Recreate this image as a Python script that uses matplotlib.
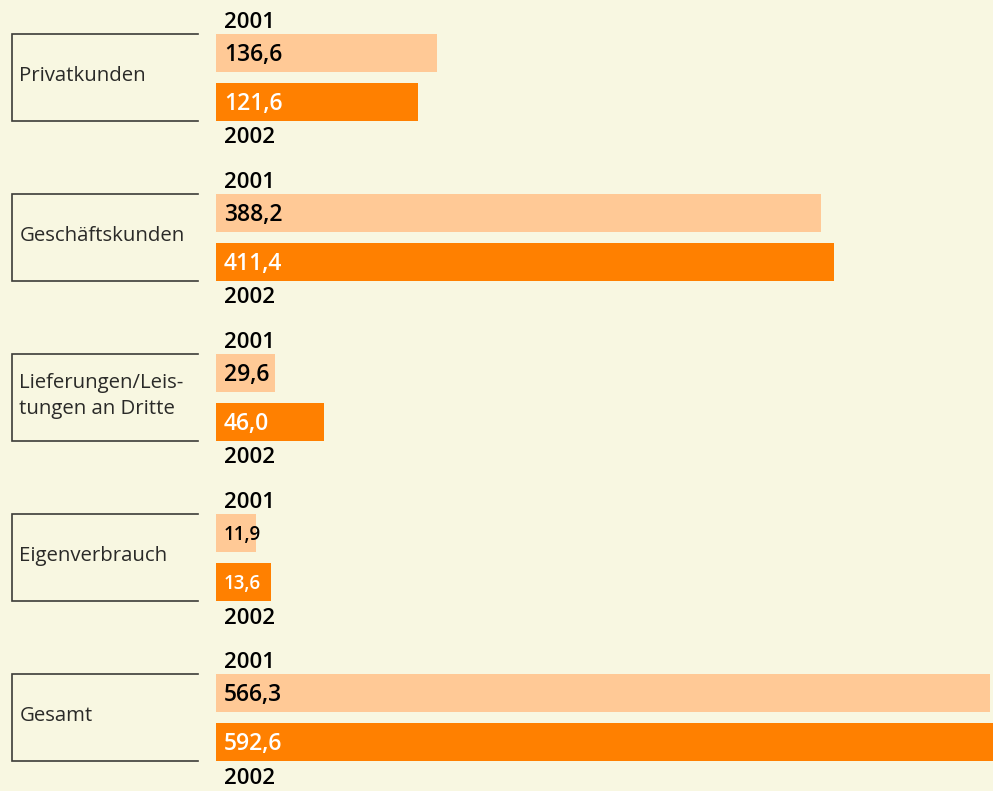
import matplotlib.pyplot as plt

kategorien = ["Privatkunden", "Geschäftskunden", "Lieferungen/Leis-\ntungen an Dritte",
              "Eigenverbrauch", "Gesamt"]
werte_2001 = [136.6, 388.2, 29.6, 11.9, 566.3]
werte_2002 = [121.6, 411.4, 46.0, 13.6, 592.6]
# bar lengths as drawn in the original (not to scale with the printed values)
laenge_2001 = [168.6, 461.4, 45.0, 30.5, 590.3]
laenge_2002 = [154.1, 471.3, 82.4, 41.9, 592.6]
jahre = ["2001", "2002"]

bg = "#f8f7e1"
hell = "#ffc996"
dunkel = "#ff8000"
plt.rcParams['font.family'] = ['Open Sans', 'DejaVu Sans']

fig = plt.figure(figsize=(9.93, 7.91), dpi=100, facecolor=bg)
ax = fig.add_axes([0, 0, 1, 1])
ax.set_facecolor(bg)
ax.set_xlim(-164.7, 592.6)
ax.set_ylim(4.459, -0.484)
ax.axis('off')

h = 0.2375
off = 0.153
tx = 6.1

def fmt(v):
    return f"{v:.1f}".replace(".", ",")

ys = list(range(len(kategorien)))
ax.barh([y - off for y in ys], laenge_2001, height=h, color=hell, left=0)
ax.barh([y + off for y in ys], laenge_2002, height=h, color=dunkel, left=0)

for i, kat in enumerate(kategorien):
    klein = werte_2001[i] < 20
    fs = 13.5 if klein else 16.5
    ax.text(tx, i - off + 0.012, fmt(werte_2001[i]), va='center', ha='left', fontsize=fs,
            fontweight='semibold', color='black')
    ax.text(tx, i + off + 0.012, fmt(werte_2002[i]), va='center', ha='left', fontsize=fs,
            fontweight='semibold', color='white')
    ax.text(tx, i - 0.342, jahre[0], va='center', ha='left', fontsize=16,
            fontweight='semibold', color='black')
    ax.text(tx, i + 0.378, jahre[1], va='center', ha='left', fontsize=16,
            fontweight='semibold', color='black')
    top, bot = i - 0.272, i + 0.272
    ax.plot([-13.7, -155.6, -155.6, -13.7], [top, top, bot, bot], color='#3c3c38',
            lw=1.2, solid_joinstyle='miter')
    ax.text(-150, i - 0.008, kat, va='center', ha='left', fontsize=14.7,
            fontweight='normal', color='#2a2a28', linespacing=1.4)

fig.savefig("out.png", dpi=100, facecolor=bg)
